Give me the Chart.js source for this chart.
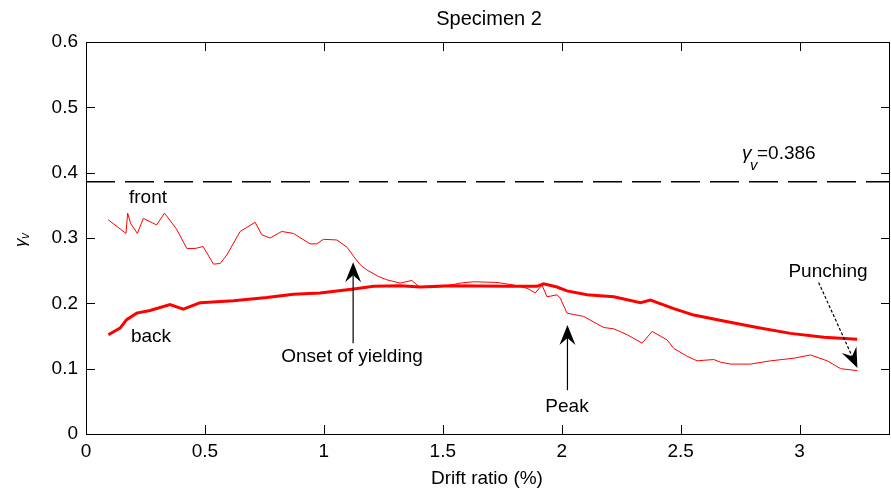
<!DOCTYPE html>
<html>
<head>
<meta charset="utf-8">
<script src="https://cdn.jsdelivr.net/npm/chart.js@4.4.0/dist/chart.umd.min.js"></script>
<style>
  body { margin: 0; background: #fff; }
  #wrap { width: 891px; height: 495px; }
</style>
</head>
<body>
<div id="wrap"><canvas id="chart" width="891" height="495"></canvas></div>
<script>
// drift ratio (%) vs gamma_v
var frontX = [0.093, 0.168, 0.175, 0.188, 0.216, 0.241, 0.297, 0.330, 0.380, 0.424, 0.459, 0.492, 0.536, 0.564, 0.592, 0.648, 0.711, 0.739, 0.774, 0.823, 0.872, 0.942, 0.970, 0.998, 1.054, 1.097, 1.125, 1.153, 1.181, 1.230, 1.265, 1.321, 1.370, 1.398, 1.450, 1.510, 1.573, 1.629, 1.728, 1.798, 1.854, 1.889, 1.917, 1.938, 1.980, 1.994, 2.022, 2.050, 2.092, 2.176, 2.219, 2.275, 2.338, 2.380, 2.443, 2.471, 2.527, 2.569, 2.639, 2.667, 2.709, 2.793, 2.878, 2.976, 3.046, 3.116, 3.172, 3.242];
var frontY = [0.328, 0.307, 0.338, 0.322, 0.307, 0.330, 0.320, 0.338, 0.314, 0.284, 0.284, 0.287, 0.260, 0.261, 0.274, 0.310, 0.324, 0.305, 0.300, 0.310, 0.307, 0.291, 0.291, 0.298, 0.297, 0.286, 0.272, 0.259, 0.251, 0.241, 0.236, 0.231, 0.235, 0.226, 0.224, 0.226, 0.231, 0.233, 0.232, 0.228, 0.223, 0.216, 0.228, 0.210, 0.213, 0.208, 0.185, 0.183, 0.180, 0.163, 0.161, 0.152, 0.139, 0.157, 0.144, 0.131, 0.119, 0.112, 0.114, 0.110, 0.107, 0.107, 0.112, 0.116, 0.121, 0.112, 0.100, 0.097];

var backX = [0.094, 0.143, 0.171, 0.213, 0.269, 0.353, 0.409, 0.480, 0.620, 0.760, 0.872, 0.984, 1.125, 1.209, 1.321, 1.405, 1.531, 1.770, 1.896, 1.924, 1.980, 2.022, 2.106, 2.219, 2.331, 2.373, 2.471, 2.555, 2.681, 2.822, 2.962, 3.102, 3.242];
var backY = [0.152, 0.162, 0.175, 0.185, 0.189, 0.198, 0.191, 0.201, 0.204, 0.209, 0.214, 0.216, 0.222, 0.226, 0.227, 0.225, 0.227, 0.226, 0.226, 0.230, 0.225, 0.219, 0.213, 0.210, 0.201, 0.205, 0.192, 0.182, 0.173, 0.163, 0.154, 0.148, 0.145];

var gammaLimit = 0.386;
var xMin = 0, xMax = 3.38;
var yMin = 0, yMax = 0.6;

var toPoints = function(xs, ys) {
    return xs.map(function(x, i) { return {x: x, y: ys[i]}; });
};

var FONT = '"Liberation Sans", Arial, sans-serif';

// box, inward ticks, titles and the annotations
var decorPlugin = {
    id: 'decor',
    afterDraw: function(chart) {
        var ctx = chart.ctx;
        var a = chart.chartArea;
        var xs = chart.scales.x, ys = chart.scales.y;
        ctx.save();
        ctx.strokeStyle = '#000';
        ctx.lineWidth = 1;
        ctx.strokeRect(a.left + 0.5, a.top + 0.5, a.right - a.left - 1, a.bottom - a.top);

        ctx.beginPath();
        xs.ticks.forEach(function(t) {
            var px = Math.round(xs.getPixelForValue(t.value)) + 0.5;
            ctx.moveTo(px, a.bottom); ctx.lineTo(px, a.bottom - 9);
            ctx.moveTo(px, a.top); ctx.lineTo(px, a.top + 9);
        });
        ys.ticks.forEach(function(t) {
            var py = Math.round(ys.getPixelForValue(t.value)) + 0.5;
            ctx.moveTo(a.left, py); ctx.lineTo(a.left + 9, py);
            ctx.moveTo(a.right, py); ctx.lineTo(a.right - 9, py);
        });
        ctx.stroke();

        ctx.fillStyle = '#000';
        ctx.textAlign = 'center';
        ctx.textBaseline = 'middle';
        ctx.font = '20px ' + FONT;
        ctx.fillText('Specimen 2', (a.left + a.right) / 2 + 1, 19);
        ctx.font = '19px ' + FONT;
        ctx.fillText('Drift ratio (%)', 487, 479);

        // y axis label gamma_v (rotated)
        ctx.save();
        ctx.translate(21, 239);
        ctx.rotate(-Math.PI / 2);
        ctx.textAlign = 'left';
        ctx.font = 'italic 17px ' + FONT;
        ctx.fillText('\u03b3', -8, 0);
        ctx.font = 'italic 12px ' + FONT;
        ctx.fillText('v', 0, 5);
        ctx.restore();

        // gamma_v = 0.386 label
        ctx.textAlign = 'left';
        ctx.textBaseline = 'alphabetic';
        ctx.font = 'italic 19px ' + FONT;
        ctx.fillText('\u03b3', 742, 159);
        ctx.font = 'italic 15px ' + FONT;
        ctx.fillText('v', 750, 170);
        ctx.font = '19px ' + FONT;
        ctx.fillText('=0.386', 757, 159);

        ctx.textAlign = 'center';
        ctx.textBaseline = 'middle';
        ctx.font = '19px ' + FONT;
        ctx.fillText('front', 148, 198);
        ctx.fillText('back', 151, 337);
        ctx.fillText('Onset of yielding', 352, 357);
        ctx.fillText('Peak', 567, 407);
        ctx.fillText('Punching', 828, 272);

        var arrow = function(x0, y0, x1, y1, dashed) {
            var p0x = xs.getPixelForValue(x0), p0y = ys.getPixelForValue(y0);
            var p1x = xs.getPixelForValue(x1), p1y = ys.getPixelForValue(y1);
            var ang = Math.atan2(p1y - p0y, p1x - p0x);
            var len = 20, half = 8, notch = 13;
            var bx = p1x - notch * Math.cos(ang), by = p1y - notch * Math.sin(ang);
            ctx.beginPath();
            if (dashed) ctx.setLineDash([3, 2]);
            ctx.lineWidth = 1.2;
            ctx.moveTo(p0x, p0y); ctx.lineTo(bx, by);
            ctx.stroke();
            ctx.setLineDash([]);
            var cx = p1x - len * Math.cos(ang), cy = p1y - len * Math.sin(ang);
            var nx = -Math.sin(ang), ny = Math.cos(ang);
            ctx.beginPath();
            ctx.moveTo(p1x, p1y);
            ctx.lineTo(cx + nx * half, cy + ny * half);
            ctx.lineTo(bx, by);
            ctx.lineTo(cx - nx * half, cy - ny * half);
            ctx.closePath();
            ctx.fill();
        };
        arrow(1.123, 0.139, 1.123, 0.263, false);
        arrow(2.024, 0.067, 2.024, 0.167, false);
        arrow(3.080, 0.232, 3.243, 0.101, true);
        ctx.restore();
    }
};

var ctx = document.getElementById('chart').getContext('2d');
var chart = new Chart(ctx, {
    type: 'scatter',
    data: {
        datasets: [{
            label: 'front',
            data: toPoints(frontX, frontY),
            showLine: true,
            borderColor: '#ff0000',
            borderWidth: 1,
            pointRadius: 0,
            tension: 0
        }, {
            label: 'back',
            data: toPoints(backX, backY),
            showLine: true,
            borderColor: '#ff0000',
            borderWidth: 3,
            pointRadius: 0,
            tension: 0
        }, {
            label: 'limit',
            data: [{x: xMin, y: gammaLimit}, {x: xMax, y: gammaLimit}],
            showLine: true,
            borderColor: '#000',
            borderWidth: 1.5,
            borderDash: [29, 10],
            pointRadius: 0
        }]
    },
    options: {
        responsive: false,
        animation: false,
        events: [],
        layout: { padding: { top: 42, right: 1, left: 0, bottom: 0 } },
        plugins: { legend: { display: false }, tooltip: { enabled: false } },
        scales: {
            x: {
                type: 'linear',
                min: xMin, max: xMax,
                grid: { display: false, drawTicks: false },
                border: { display: false },
                ticks: { stepSize: 0.5, includeBounds: false, color: '#000', padding: 6, maxRotation: 0,
                         font: { family: FONT, size: 19 },
                         callback: function(v) { return String(Math.round(v * 10) / 10); } },
                afterFit: function(s) { s.height = 61; }
            },
            y: {
                type: 'linear',
                min: yMin, max: yMax,
                grid: { display: false, drawTicks: false },
                border: { display: false },
                ticks: { stepSize: 0.1, color: '#000', padding: 8,
                         font: { family: FONT, size: 19 },
                         callback: function(v) { return String(Math.round(v * 10) / 10); } },
                afterFit: function(s) { s.width = 86; }
            }
        }
    },
    plugins: [decorPlugin]
});
</script>
</body>
</html>
